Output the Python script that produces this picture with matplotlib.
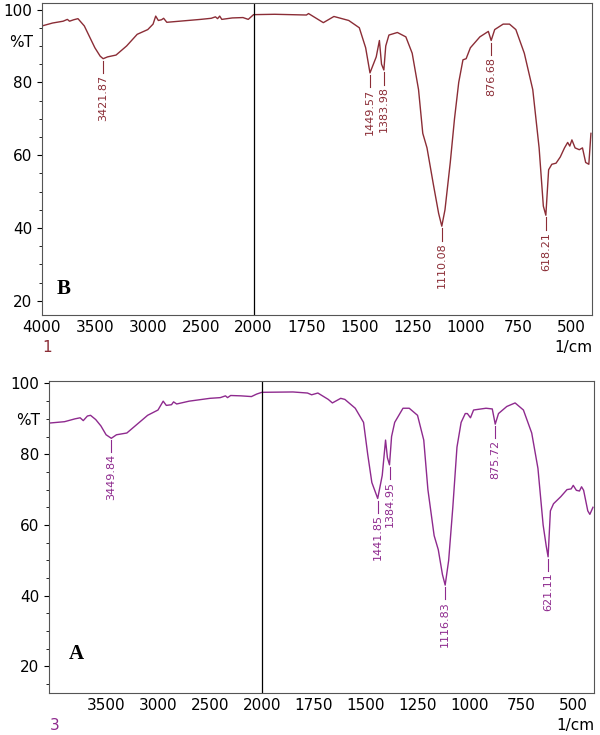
import numpy as np
import matplotlib
matplotlib.use("Agg")
import matplotlib.pyplot as plt
from matplotlib.ticker import MultipleLocator

# Spectrum B (top)
b_wn = [4000, 3900, 3800, 3760, 3740, 3700, 3660, 3600, 3550, 3500, 3450, 3421.87, 3380, 3300, 3200,
        3100, 3000, 2950, 2925, 2900, 2870, 2850, 2820, 2700, 2500, 2400, 2360, 2340, 2320, 2300,
        2200, 2100, 2050, 2000, 1900, 1750, 1740, 1670, 1620, 1550, 1500, 1470, 1449.57, 1420, 1405,
        1395, 1383.98, 1375, 1360, 1320, 1280, 1250, 1220, 1200, 1180, 1150, 1125, 1110.08, 1095,
        1070, 1050, 1030, 1010, 995, 975, 930, 890, 876.68, 860, 820, 790, 760, 720, 680, 650, 630,
        618.21, 605, 590, 570, 550, 530, 515, 505, 495, 480, 460, 445, 430, 415, 405]
b_t = [95.5, 96.3, 96.8, 97.3, 96.8, 97.2, 97.5, 95.5, 92.5, 89.5, 87.2, 86.5, 87, 87.5, 90,
       93.2, 94.5, 96, 98.2, 97, 97.2, 97.6, 96.5, 96.8, 97.3, 97.6, 98, 97.5, 98.2, 97.3,
       97.7, 97.8, 97.3, 98.6, 98.7, 98.5, 98.9, 96.4, 98.1, 97, 95, 89.5, 82.6, 87, 91.5,
       85, 83.4, 90, 93, 93.7, 92.5, 88, 78, 66, 62, 52, 44, 40.5, 45,
       58, 70, 80, 86.2, 86.5, 89.5, 92.5, 94, 91.5, 94.5, 96, 96, 94.5, 88, 78, 62, 46,
       43.5, 56, 57.5, 57.8, 59.5, 62, 63.5, 62.5, 64.2, 62, 61.5, 62, 58, 57.5, 66]
b_peaks = [3421.87, 1449.57, 1383.98, 1110.08, 876.68, 618.21]

# Spectrum A (bottom)
a_wn = [4050, 3900, 3800, 3750, 3720, 3680, 3650, 3600, 3550, 3500, 3449.84, 3400, 3300, 3200, 3100,
        3000, 2950, 2920, 2870, 2850, 2820, 2700, 2500, 2400, 2350, 2330, 2300, 2200, 2100, 2050,
        2000, 1850, 1780, 1760, 1730, 1680, 1660, 1620, 1600, 1550, 1510, 1490, 1470, 1441.85,
        1420, 1404, 1395, 1384.95, 1375, 1360, 1320, 1290, 1250, 1220, 1200, 1170, 1150, 1130,
        1116.83, 1100, 1080, 1060, 1040, 1020, 1010, 995, 980, 920, 890, 875.72, 860, 820, 780,
        740, 700, 670, 645, 630, 621.11, 610, 595, 560, 530, 510, 500, 485, 470, 460, 450, 430,
        420, 405]
a_t = [88.8, 89.2, 90, 90.3, 89.5, 90.8, 91, 89.8, 88, 85.5, 84.5, 85.5, 86, 88.5, 91,
       92.5, 95, 93.8, 94, 94.8, 94.2, 95, 95.8, 96, 96.5, 96, 96.6, 96.5, 96.3, 97,
       97.5, 97.6, 97.3, 96.8, 97.3, 95.5, 94.5, 95.8, 95.5, 93, 89, 80, 72, 67.5,
       74, 84, 79, 77, 85, 89, 93, 93, 91, 84, 70, 57, 53, 46,
       43, 50, 65, 82, 89, 91.5, 91.5, 90.3, 92.5, 93, 92.8, 88.5, 91.5, 93.5, 94.5,
       92.5, 86, 76, 60, 54, 51, 64, 66, 68, 70, 70.2, 71.2, 69.8, 69.6, 70.8, 69.8, 64,
       63, 65]
a_peaks = [3449.84, 1441.85, 1384.95, 1116.83, 875.72, 621.11]


def fwd(w):
    w = np.asarray(w, dtype=float)
    return np.where(w <= 2000, w, 2000 + (w - 2000) / 2)


def inv(u):
    u = np.asarray(u, dtype=float)
    return np.where(u <= 2000, u, 2000 + 2 * (u - 2000))


def draw(ax, wn, t, peaks, color, xl, yl, letter, num, xticks):
    ax.set_xscale("function", functions=(fwd, inv))
    ax.plot(wn, t, color=color, lw=1.0)
    ax.set_xlim(*xl)
    ax.set_ylim(*yl)
    ax.axvline(2000, color="black", lw=0.9)
    for p in peaks:
        y = np.interp(p, wn[::-1], t[::-1])
        ax.plot([p, p], [y - 0.6, y - 4], color=color, lw=0.8)
        ax.text(p, y - 4.5, f"{p:.2f}", rotation=90, ha="center", va="top",
                color=color, fontsize=8)
    ax.set_xticks(xticks)
    ax.set_yticks([20, 40, 60, 80, 100])
    ax.yaxis.set_minor_locator(MultipleLocator(5))
    ax.tick_params(labelsize=11, direction="out")
    ax.tick_params(axis="x", which="major", length=0)
    for s in ax.spines.values():
        s.set_color("#555555")
    ax.text(-0.06, 0.86, "%T", transform=ax.transAxes, fontsize=11, ha="left")
    ax.text(3860, 22, letter, fontsize=15, fontweight="bold", family="Liberation Serif")
    ax.text(0.01, -0.105, num, transform=ax.transAxes, fontsize=11, color=color,
            ha="center", va="center")
    ax.text(1.0, -0.105, "1/cm", transform=ax.transAxes, fontsize=11, ha="right", va="center")


fig = plt.figure(figsize=(6, 7.35), dpi=100)
ax_b = fig.add_axes([42 / 600, 1 - 315 / 735, 550 / 600, 312 / 735])
ax_a = fig.add_axes([49 / 600, 1 - 693 / 735, 545 / 600, 312 / 735])

draw(ax_b, b_wn, b_t, b_peaks, "#8b2d36", (4000, 400), (16.1, 101.8), "B", "1",
     [4000, 3500, 3000, 2500, 2000, 1750, 1500, 1250, 1000, 750, 500])
draw(ax_a, a_wn, a_t, a_peaks, "#8e2a8e", (4050, 400), (12.5, 100.7), "A", "3",
     [3500, 3000, 2500, 2000, 1750, 1500, 1250, 1000, 750, 500])

fig.savefig("out.png", dpi=100)
